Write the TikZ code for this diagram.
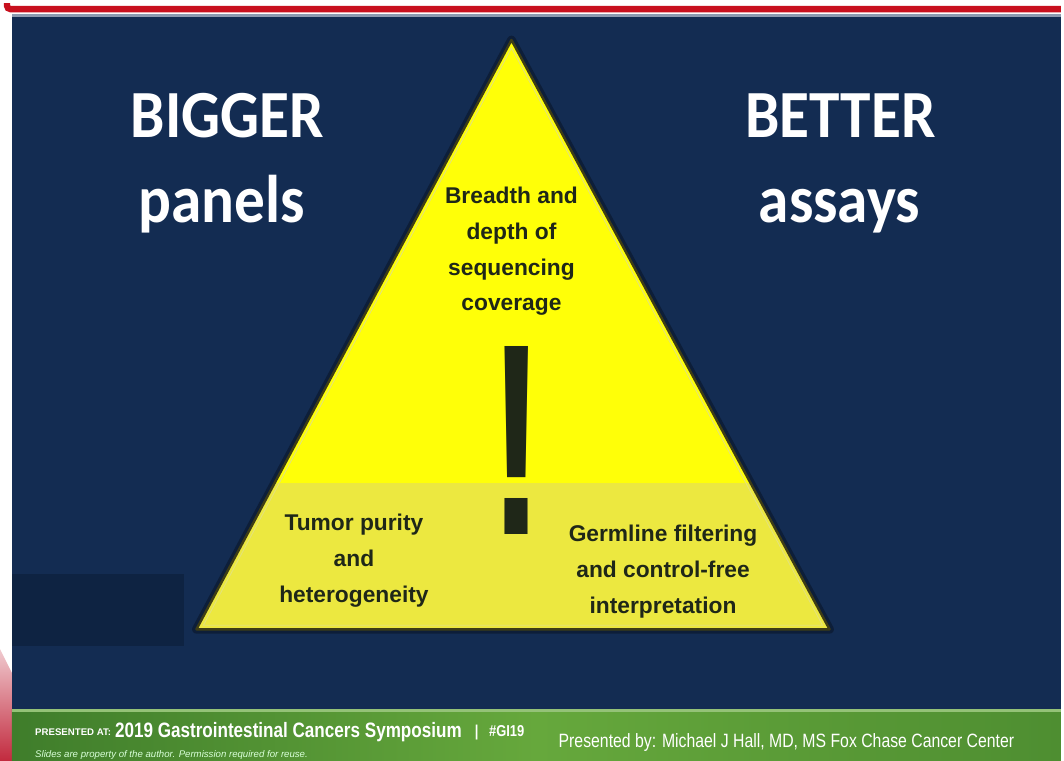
\documentclass[tikz,border=0pt]{standalone}
\usepackage{fontspec}
\setmainfont{Liberation Sans}
\newfontfamily\slidefont{Carlito}
\newfontfamily\narrowfont[FakeStretch=0.82]{Liberation Sans}
\usepackage{xcolor}
\usepackage{tikz}
\usetikzlibrary{positioning, calc}
\definecolor{slidenavy}{HTML}{132C52}
\definecolor{slidedark}{HTML}{0E2342}
\definecolor{pyryellow}{HTML}{FFFF08}
\definecolor{pyrband}{HTML}{ECE840}
\definecolor{pyredge}{HTML}{3E3D16}
\definecolor{pyrinner}{HTML}{E4E27A}
\definecolor{inkdark}{HTML}{1F2718}
\definecolor{footgreenL}{HTML}{3F7D2B}
\definecolor{footgreenM}{HTML}{66A83C}
\definecolor{footgreenR}{HTML}{4E8E31}
\definecolor{framered}{HTML}{C8101E}
\definecolor{cornerred}{HTML}{C22A3E}
\definecolor{rulegrey}{HTML}{8C9AB0}

\begin{document}
\begin{tikzpicture}[x=0.02cm, y=-0.02cm,
    headline/.style={font=\slidefont\bfseries\fontsize{35}{40}\selectfont,
        text=white, anchor=base, inner sep=0pt},
    pyrtext/.style={font=\bfseries\fontsize{13}{20.4}\selectfont, text=inkdark,
        align=center, inner sep=0pt},
    foot/.style={text=white, anchor=base west, inner sep=0pt}
]
    % === page and frame ===
    \fill[white] (0,0) rectangle (1064,760);
    \draw[framered, line width=3.6pt, rounded corners=2pt] (7,0) -- (7,6) -- (1064,6);
    \fill[rulegrey] (12,11) rectangle (1064,13.5);
    \fill[slidenavy] (12,13.5) rectangle (1064,708);
    \fill[slidedark] (12,573) rectangle (185,645);
    \shade[top color=cornerred!25, bottom color=cornerred, shading angle=0]
        (0,648) -- (12,672) -- (12,760) -- (0,760) -- cycle;

    % === footer band ===
    \shade[left color=footgreenL, right color=footgreenR, middle color=footgreenM]
        (12,708) rectangle (1064,760);
    \fill[footgreenM!70!white] (12,708) rectangle (1064,710.5);

    % === pyramid ===
    \coordinate (apex) at (513,37);
    \coordinate (baseL) at (197,628);
    \coordinate (baseR) at (832,628);
    \draw[black, opacity=0.3, line width=5pt, line join=round]
        (apex) -- (baseL) -- (baseR) -- cycle;
    \fill[pyryellow] (apex) -- (baseL) -- (baseR) -- cycle;
    \begin{scope}
        \clip (apex) -- (baseL) -- (baseR) -- cycle;
        \fill[pyrband] (150,481) rectangle (880,640);
    \end{scope}
    \draw[pyredge, line width=1.4pt, line join=round] (apex) -- (baseL) -- (baseR) -- cycle;
    \draw[pyrinner, line width=0.5pt] (513,45) -- (204,624) -- (825,624) -- cycle;

    % --- pyramid texts ---
    \node[pyrtext] (coverage) at (513,249) {Breadth and\\depth of\\sequencing\\coverage};
    \node[pyrtext] (purity) at (355,559) {Tumor purity\\and\\heterogeneity};
    \node[pyrtext] (germline) at (665,570) {Germline filtering\\and control-free\\interpretation};
    \node[anchor=base, inner sep=0pt, text=inkdark,
        font=\bfseries\fontsize{156}{156}\selectfont] (bang) at (518.5,533)
        {\scalebox{0.6}[1]{!}};

    % === side headings ===
    \node[headline] (bigger) at (228,135) {\scalebox{1}[1.1]{BIGGER}};
    \node[headline] (panels) at (222,220) {\scalebox{1}[1.1]{panels}};
    \node[headline] (better) at (843,135) {\scalebox{1}[1.1]{BETTER}};
    \node[headline] (assays) at (842,220) {\scalebox{1}[1.1]{assays}};

    % === footer texts ===
    \node[foot, font=\bfseries\fontsize{5.5}{6}\selectfont] (presat) at (35,735) {PRESENTED AT:};
    \node[foot, font=\narrowfont\bfseries\fontsize{11.9}{14}\selectfont] (symp)
        at (115,737) {2019 Gastrointestinal Cancers Symposium};
    \node[foot, font=\narrowfont\bfseries\fontsize{9}{10}\selectfont] (tag)
        at (476,736) {|\hspace{6pt}\#GI19};
    \node[foot, text=white!85!green, font=\itshape\fontsize{5.5}{6}\selectfont] (reuse)
        at (35,757) {Slides are property of the author. Permission required for reuse.};
    \node[foot, font=\narrowfont\fontsize{11}{12}\selectfont] (speaker)
        at (560,747) {Presented by: Michael J Hall, MD, MS Fox Chase Cancer Center};
\end{tikzpicture}
\end{document}
